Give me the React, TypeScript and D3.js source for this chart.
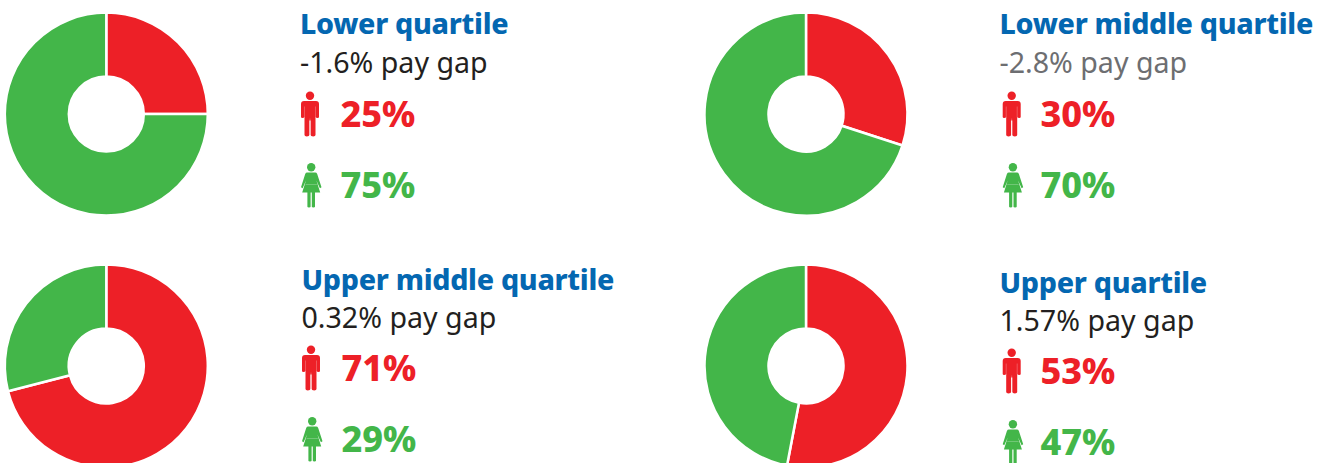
import React from 'react'
import * as d3 from 'd3'

const width = 1330
const height = 463

const quartiles = ['Lower quartile', 'Lower middle quartile', 'Upper middle quartile', 'Upper quartile']
const payGaps = ['-1.6%', '-2.8%', '0.32%', '1.57%']
const menShare = [25, 30, 71, 53]
const womenShare = [75, 70, 29, 47]

// layout of each panel: donut centre, text column, icons, baselines
const donutX = [106.3, 806, 106.3, 806]
const donutY = [114.1, 114.1, 366, 366]
const textX = [300, 999.5, 301.5, 999.5]
const titleY = [34, 34, 290, 293]
const gapY = [73, 73, 327.5, 330.5]
const rowY = [33.5, 33.5, 287.5, 290.5]
const iconX = [301, 1002.7, 302, 1002.7]
const pctX = [340.5, 1040.5, 341.5, 1040.5]
const gapColor = ['#231f20', '#6d6e71', '#231f20', '#231f20']

const red = '#ed2027'
const green = '#43b649'
const blue = '#0467b1'
const font = '"Noto Sans", "Open Sans", sans-serif'

// the white slice stroke eats half its width off each edge
const outerR = 101.5
const innerR = 37.5

const pie = d3.pie<number>().sort(null)
const arc = d3.arc<d3.PieArcDatum<number>>().innerRadius(innerR).outerRadius(outerR)

const Man = ({ x, y }: { x: number; y: number }) => (
  <g transform={`translate(${x},${y})`}>
    <circle cx={9} cy={4.2} r={4.2} fill={red} />
    <path
      fill={red}
      d="M3 9.6H15Q18 9.6 18 12.6V25.5Q18 26.6 16.6 26.6Q15 26.6 14.5 25.5V43.6Q14.5 45 12.2 45Q9.6 45 9.6 43.6V29H8.4V43.6Q8.4 45 5.8 45Q3.5 45 3.5 43.6V25.5Q3 26.6 1.4 26.6Q0 26.6 0 25.5V12.6Q0 9.6 3 9.6Z"
    />
    <path d="M3.5 15V26M14.5 15V26M9 27V45" stroke="#fff" strokeOpacity={0.35} strokeWidth={0.7} fill="none" />
  </g>
)

const Woman = ({ x, y }: { x: number; y: number }) => (
  <g transform={`translate(${x},${y})`}>
    <circle cx={10.2} cy={4.2} r={4.2} fill={green} />
    <path
      fill={green}
      d="M6.2 9.6H14.2Q15.6 9.6 16.2 11L20.5 24.2L18.9 25.2L15.4 17.5L19.2 29.6H14V43.8Q14 44.6 12.4 44.6Q10.8 44.6 10.8 43.8V29.6H9.6V43.8Q9.6 44.6 8 44.6Q6.4 44.6 6.4 43.8V29.6H1.2L5 17.5L1.6 25.2L0 24.2L4.2 11Q4.8 9.6 6.2 9.6Z"
    />
    <path d="M4.6 21.5H15.8" stroke="#fff" strokeOpacity={0.35} strokeWidth={0.7} fill="none" />
  </g>
)

const App = () => (
  <svg
    width={width}
    height={height}
    viewBox={`0 0 ${width} ${height}`}
    style={{ position: 'absolute', left: 0, top: 0, background: '#fff' }}
    fontFamily={font}
  >
    {quartiles.map((name, i) => {
      const slices = pie([menShare[i], womenShare[i]])
      const tx = textX[i]
      const ty = rowY[i]
      return (
        <g key={name}>
          <g transform={`translate(${donutX[i]},${donutY[i]})`}>
            {slices.map((s, j) => (
              <path key={j} d={arc(s) as string} fill={j === 0 ? red : green} stroke="#fff" strokeWidth={2.5} />
            ))}
          </g>
          <text x={tx} y={titleY[i]} fontSize={28.6} fontWeight={800} letterSpacing={-0.28} fill={blue}>{name}</text>
          <text x={tx} y={gapY[i]} fontSize={28.6} fill={gapColor[i]}>{`${payGaps[i]} pay gap`}</text>
          <Man x={iconX[i]} y={ty + 58} />
          <text x={pctX[i]} y={ty + 93} fontSize={36} fontWeight={800} fill={red}>{`${menShare[i]}%`}</text>
          <Woman x={iconX[i]} y={ty + 129.5} />
          <text x={pctX[i]} y={ty + 164} fontSize={36} fontWeight={800} fill={green}>{`${womenShare[i]}%`}</text>
        </g>
      )
    })}
  </svg>
)

export default App
